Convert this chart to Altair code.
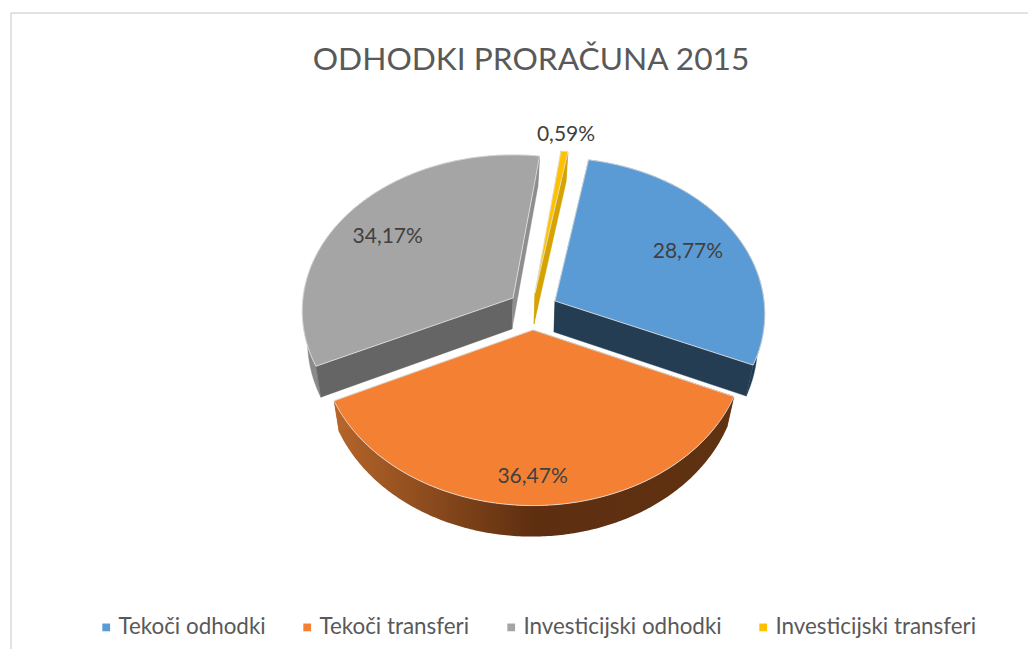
import math
import altair as alt
import pandas as pd

# --- values ---
categories = ["Tekoči odhodki", "Tekoči transferi", "Investicijski odhodki", "Investicijski transferi"]
shares = [28.77, 36.47, 34.17, 0.59]
top_colors = ["#5B9BD5", "#F48133", "#A5A5A5", "#FFC000"]
title_text = "ODHODKI PRORAČUNA 2015"

# --- drawing geometry of the tilted, exploded pie ---
W, H = 1020, 641
START_ANGLE = 10.0
DEPTH = 31.0
DEPTH_SCALE = 0.97
PERSPECTIVE = 0.083
#        apex x, apex y, radius x, radius y, label radius
slice_geom = [
    (555, 301, 209, 155, 0.76),
    (533, 330, 212, 161, 0.82),
    (513, 298, 210, 155, 0.75),
    (535, 293, 205, 155, 1.17),
]
end_wall_colors = ["#243D53", "#B5652A", "#8E8E8E", "#D6A300"]
start_wall_colors = ["#243D53", "#5F3211", "#656565", "#D6A300"]
outer_wall_colors = ["#1F3A52", "#6A3512", "#8A8A8A", "#D6A300"]


def project(geom, angle_deg, radius=1.0, low=False):
    cx, cy, a, b, _ = geom
    t = math.radians(angle_deg)
    X, Z = radius * math.sin(t), radius * math.cos(t)
    s = 1 / (1 + PERSPECTIVE * Z)
    dx, dy = a * X * s, -b * Z * s
    if low:
        return cx - 1 + dx * DEPTH_SCALE, cy + DEPTH + dy
    return cx + dx, cy + dy


def arc(geom, a0, a1, low=False):
    n = max(3, int(abs(a1 - a0) * 1.5))
    return [project(geom, a0 + (a1 - a0) * i / n, low=low) for i in range(n + 1)]


walls, tops, outer_gradient, labels = [], [], [], []


def add(rows, name, pts, **extra):
    for i, (x, y) in enumerate(pts + pts[:1]):
        rows.append(dict(poly=name, seq=i, x=x, y=y, **extra))


angle = START_ANGLE
for i, (cat, share) in enumerate(zip(categories, shares)):
    g = slice_geom[i]
    sweep = share * 3.6
    a0, a1 = angle, angle + sweep
    outer = arc(g, a0, a1) + arc(g, a1, a0, low=True)
    apex, apex_low = project(g, 0, 0), project(g, 0, 0, low=True)
    start = [apex, project(g, a0), project(g, a0, low=True), apex_low]
    end = [apex, project(g, a1), project(g, a1, low=True), apex_low]
    order = 10 * {3: 0, 2: 1, 0: 2, 1: 3}[i]
    if i == 1:
        add(outer_gradient, f"outer{i}", outer)
    else:
        add(walls, f"{order}a{i}", outer, color=outer_wall_colors[i])
    add(walls, f"{order}b{i}", start, color=start_wall_colors[i])
    add(walls, f"{order}c{i}", end, color=end_wall_colors[i])
    add(tops, f"top{i}", [apex] + arc(g, a0, a1), category=cat)
    lx, ly = project(g, (a0 + a1) / 2, g[4])
    labels.append(dict(x=lx, y=ly, text=f"{share:.2f}%".replace(".", ",")))
    angle = a1

x_enc = alt.X("x:Q", axis=None, scale=alt.Scale(domain=[8, 8 + W], nice=False, zero=False))
y_enc = alt.Y("y:Q", axis=None, scale=alt.Scale(domain=[8 + H, 8], nice=False, zero=False))

frame_top = pd.DataFrame([dict(x=11, x2=8 + W, y=13)])
frame_left = pd.DataFrame([dict(x=11, y=13, y2=8 + H)])
frame = alt.layer(
    alt.Chart(frame_top).mark_rule(color="#D9D9D9", strokeWidth=1.5).encode(x=x_enc, x2="x2:Q", y=y_enc),
    alt.Chart(frame_left).mark_rule(color="#D9D9D9", strokeWidth=1.5).encode(x=x_enc, y=y_enc, y2="y2:Q"),
)

wall_layer = alt.Chart(pd.DataFrame(walls)).mark_line(fill="#888888", strokeWidth=0.6, strokeOpacity=0.6).encode(
    x=x_enc, y=y_enc, detail="poly:N", order="seq:Q",
    fill=alt.Fill("color:N", scale=None),
    stroke=alt.Stroke("color:N", scale=None),
)

gradient = alt.Gradient(
    gradient="linear", x1=0, x2=1, y1=0, y2=0,
    stops=[
        alt.GradientStop(offset=0, color="#B5652A"),
        alt.GradientStop(offset=0.5, color="#5E2E10"),
        alt.GradientStop(offset=1, color="#5F3211"),
    ],
)
outer_layer = alt.Chart(pd.DataFrame(outer_gradient)).mark_line(
    fill=gradient, stroke=None
).encode(x=x_enc, y=y_enc, order="seq:Q")

top_layer = alt.Chart(pd.DataFrame(tops)).mark_line(stroke="#E6E6E6", strokeWidth=1, strokeOpacity=0.8).encode(
    x=x_enc, y=y_enc, detail="poly:N", order="seq:Q",
    fill=alt.Fill(
        "category:N",
        scale=alt.Scale(domain=categories, range=top_colors),
        legend=alt.Legend(
            orient="none", legendX=87, legendY=608, direction="horizontal", columns=4,
            columnPadding=30, title=None, symbolType="square", symbolSize=60,
            symbolStrokeWidth=0, labelFont="Lato", labelFontSize=22.4, labelColor="#595959",
            labelOffset=1, labelLimit=300, symbolOpacity=1,
        ),
    ),
)

label_layer = alt.Chart(pd.DataFrame(labels)).mark_text(
    font="Lato", fontSize=21, color="#404040", align="center", baseline="middle", dx=-3, dy=5
).encode(x=x_enc, y=y_enc, text="text:N")

chart = alt.layer(frame, outer_layer, wall_layer, top_layer, label_layer).properties(
    width=W, height=H, padding=0, background="white",
    autosize=alt.AutoSizeParams(type="none"),
    title=alt.TitleParams(
        title_text, font="Lato", fontSize=31.7, fontWeight="normal", color="#595959",
        anchor="middle", dx=13, dy=105, baseline="bottom",
    ),
).configure_view(stroke=None)

chart.save("out.html", embed_options={"renderer": "svg", "actions": False})
